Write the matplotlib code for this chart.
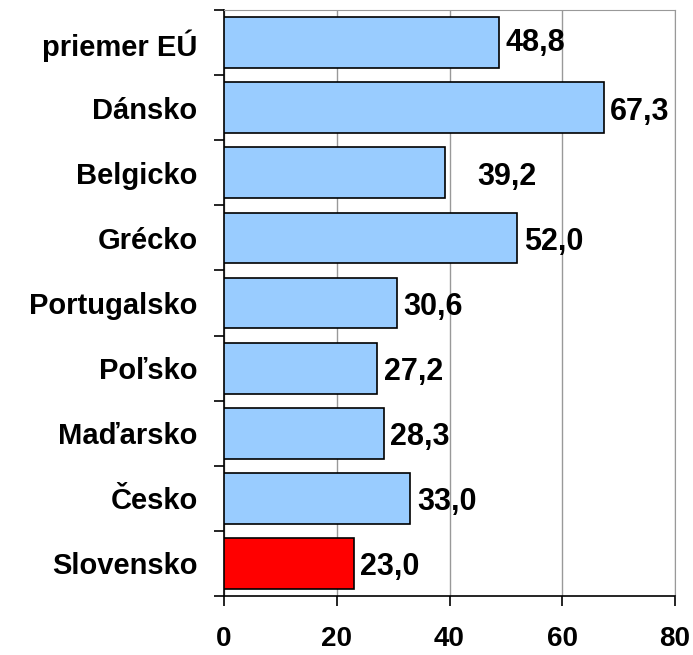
import numpy as np
import matplotlib.pyplot as plt

plt.rcParams['font.family'] = ['Liberation Sans', 'DejaVu Sans']

# data (top to bottom)
countries = ['priemer EÚ', 'Dánsko', 'Belgicko', 'Grécko', 'Portugalsko',
             'Poľsko', 'Maďarsko', 'Česko', 'Slovensko']
values = [48.8, 67.3, 39.2, 52.0, 30.6, 27.2, 28.3, 33.0, 23.0]
labels = ['48,8', '67,3', '39,2', '52,0', '30,6', '27,2', '28,3', '33,0', '23,0']
xticks = [0, 20, 40, 60, 80]

colors = ['#99CCFF'] * (len(values) - 1) + ['#FF0000']
# Belgicko label sits further right in the original
label_shift = [1.2, 1.2, 5.8, 1.2, 1.2, 1.2, 1.2, 1.2, 1.2]

fig = plt.figure(figsize=(6.93, 6.55), dpi=100)
ax = fig.add_axes([0.3232, 0.0901, 0.651, 0.8946])

y = np.arange(len(values))
ax.barh(y, values, height=0.78, color=colors, edgecolor='black', linewidth=1.2, zorder=3)

for yi, v, lab, s in zip(y, values, labels, label_shift):
    ax.text(v + s, yi + (0 if yi == 0 else 0.06), lab, va='center', ha='left',
            fontsize=22, fontweight='bold', zorder=4)

ax.set_xlim(0, 80)
ax.set_ylim(len(values) - 0.5, -0.5)

ax.set_xticks(xticks)
ax.set_xticklabels([str(t) for t in xticks], fontsize=20, fontweight='bold')
ax.tick_params(axis='x', direction='out', length=7.5, width=1.2, pad=14)

ax.set_yticks(y)
ax.set_yticklabels(countries, fontsize=21, fontweight='bold')
ax.tick_params(axis='y', which='major', length=0, pad=19)
ax.set_yticks(np.arange(len(values) + 1) - 0.5, minor=True)
ax.tick_params(axis='y', which='minor', direction='out', length=7.5, width=1.2)

ax.grid(axis='x', color='#999999', linewidth=1, zorder=0)
ax.spines['left'].set_color('black')
ax.spines['left'].set_linewidth(1.2)
ax.spines['bottom'].set_color('black')
ax.spines['bottom'].set_linewidth(1.2)
ax.spines['top'].set_color('#999999')
ax.spines['right'].set_color('#999999')

fig.savefig('out.png', dpi=100)
